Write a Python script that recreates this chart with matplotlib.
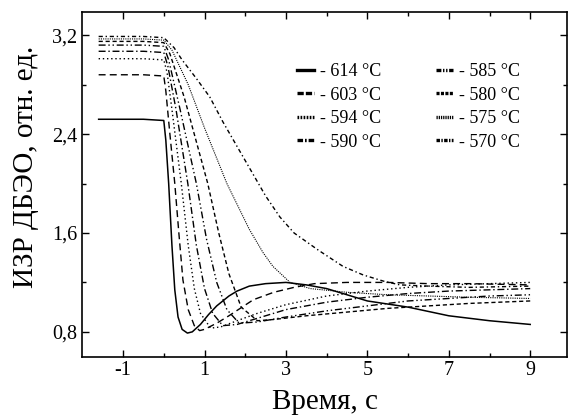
import matplotlib.pyplot as plt
import matplotlib.ticker as ticker
from matplotlib.lines import Line2D

plt.rcParams['font.family'] = ['Liberation Serif', 'DejaVu Serif']
plt.rcParams['axes.unicode_minus'] = False

# time points (s) and signal values, one pair of lists per temperature
t614 = [-1.6, -0.5, 0.0, 0.05, 0.12, 0.2, 0.27, 0.35, 0.45, 0.58, 0.7, 0.9, 1.1, 1.3, 1.6, 1.8, 2.1, 2.5, 3.0, 3.5, 4.0, 5.0, 6.0, 7.0, 8.0, 9.0]
v614 = [2.52, 2.52, 2.51, 2.35, 2.0, 1.5, 1.14, 0.92, 0.82, 0.79, 0.80, 0.86, 0.94, 1.01, 1.09, 1.13, 1.17, 1.19, 1.20, 1.18, 1.15, 1.05, 1.0, 0.93, 0.89, 0.86]

t603 = [-1.6, -0.5, 0.0, 0.05, 0.15, 0.27, 0.37, 0.47, 0.6, 0.75, 0.88, 1.0, 1.3, 1.6, 2.2, 2.7, 3.2, 3.7, 4.5, 5.5, 6.5, 7.5, 9.0]
v603 = [2.88, 2.88, 2.87, 2.75, 2.4, 2.0, 1.6, 1.22, 0.98, 0.85, 0.81, 0.82, 0.87, 0.93, 1.06, 1.12, 1.16, 1.19, 1.20, 1.20, 1.19, 1.19, 1.18]

t594 = [-1.6, -0.5, 0.0, 0.08, 0.2, 0.43, 0.6, 0.75, 0.9, 1.15, 1.4, 1.8, 2.3, 3.0, 4.0, 5.0, 6.0, 7.0, 8.0, 9.0]
v594 = [3.01, 3.01, 3.0, 2.9, 2.6, 2.0, 1.5, 1.15, 0.95, 0.83, 0.84, 0.89, 0.95, 1.02, 1.09, 1.13, 1.16, 1.18, 1.19, 1.20]

t590 = [-1.6, -0.5, 0.0, 0.1, 0.3, 0.59, 0.8, 1.0, 1.2, 1.45, 1.8, 2.5, 3.0, 4.0, 5.0, 6.0, 7.0, 8.0, 9.0]
v590 = [3.07, 3.07, 3.06, 2.95, 2.6, 2.0, 1.5, 1.15, 0.95, 0.85, 0.86, 0.93, 0.98, 1.04, 1.08, 1.11, 1.13, 1.14, 1.15]

t585 = [-1.6, -0.5, 0.0, 0.12, 0.4, 0.8, 1.05, 1.3, 1.55, 1.85, 2.3, 3.0, 4.0, 5.0, 6.0, 7.0, 8.0, 9.0]
v585 = [3.12, 3.12, 3.11, 3.0, 2.6, 2.0, 1.55, 1.2, 0.98, 0.87, 0.88, 0.92, 0.97, 1.01, 1.05, 1.07, 1.09, 1.10]

t580 = [-1.6, -0.5, 0.0, 0.15, 0.5, 1.08, 1.35, 1.6, 1.9, 2.3, 2.7, 3.5, 4.5, 5.5, 6.5, 7.5, 9.0]
v580 = [3.15, 3.15, 3.14, 3.05, 2.7, 2.0, 1.6, 1.27, 1.0, 0.89, 0.9, 0.93, 0.96, 0.99, 1.01, 1.03, 1.05]

t575 = [-1.6, -0.5, 0.0, 0.2, 0.6, 1.0, 1.55, 2.1, 2.44, 2.68, 3.1, 3.6, 4.5, 5.5, 6.5, 7.5, 9.0]
v575 = [3.17, 3.17, 3.16, 3.08, 2.8, 2.45, 2.0, 1.63, 1.44, 1.33, 1.2, 1.15, 1.12, 1.10, 1.09, 1.08, 1.07]

t570 = [-1.6, -0.5, 0.0, 0.25, 0.45, 0.8, 1.13, 1.45, 1.8, 2.15, 2.5, 2.85, 3.2, 3.8, 4.4, 4.9, 5.4, 5.8, 6.5, 7.5, 9.0]
v570 = [3.19, 3.19, 3.18, 3.1, 3.0, 2.85, 2.7, 2.5, 2.3, 2.1, 1.9, 1.73, 1.6, 1.46, 1.33, 1.26, 1.21, 1.18, 1.17, 1.16, 1.17]

labels = ['- 614 °C', '- 603 °C', '- 594 °C', '- 590 °C',
          '- 585 °C', '- 580 °C', '- 575 °C', '- 570 °C']

x_ticks = [-1, 1, 3, 5, 7, 9]
y_ticks = [0.8, 1.6, 2.4, 3.2]
y_ticklabels = ['0,8', '1,6', '2,4', '3,2']

series = [(t614, v614), (t603, v603), (t594, v594), (t590, v590),
          (t585, v585), (t580, v580), (t575, v575), (t570, v570)]
styles = ['-', (0, (5, 3)), (0, (1, 2)), (0, (5, 2, 1, 2)),
          (0, (5, 2, 1, 2, 1, 2)), (0, (3, 2)), (0, (1, 1)), (0, (3, 2, 1, 2))]
widths = [1.1, 1.0, 1.0, 1.0, 1.0, 1.0, 0.8, 1.0]

# legend handle dash patterns (in points, not scaled by line width)
legend_styles = ['-', (0, (4.5, 1.5)), (0, (1.2, 1.0)), (0, (4, 1.4, 1.2, 1.4)),
                 (0, (3.5, 1.2, 1.0, 1.2, 1.0, 1.2)), (0, (2.2, 1.0)),
                 (0, (0.9, 0.7)), (0, (2.5, 1.0, 1.0, 1.0))]

fig = plt.figure(figsize=(5.68, 4.19), dpi=100)
ax = fig.add_axes([0.145, 0.149, 0.853, 0.823])

for (t, v), ls, lw in zip(series, styles, widths):
    ax.plot(t, v, color='black', linestyle=ls, linewidth=lw)

ax.set_xlim(-2, 9.9)
ax.set_ylim(0.6, 3.39)
ax.set_xticks(x_ticks)
ax.set_yticks(y_ticks)
ax.set_yticklabels(y_ticklabels)
ax.xaxis.set_minor_locator(ticker.FixedLocator([0, 2, 4, 6, 8]))
ax.yaxis.set_minor_locator(ticker.FixedLocator([1.2, 2.0, 2.8]))
ax.tick_params(which='both', direction='in', top=True, right=True, labelsize=14.5, width=1)
ax.tick_params(which='major', length=5)
ax.tick_params(which='minor', length=3)
for s in ax.spines.values():
    s.set_linewidth(1.2)

ax.set_xlabel('Время, с', fontsize=21, labelpad=6)
ax.set_ylabel('ИЗР ДБЭО, отн. ед.', fontsize=21)
ax.yaxis.set_label_coords(-0.09, 0.55)

# legend handles: thick, dashes not scaled by width
plt.rcParams['lines.scale_dashes'] = False
handles = [Line2D([], [], color='black', linestyle=ls, linewidth=2.4) for ls in legend_styles]
ax.legend(handles, labels, ncol=2, frameon=False, fontsize=13,
          loc='upper left', bbox_to_anchor=(288 / 568, 1 - 54 / 419),
          bbox_transform=fig.transFigure, handlelength=0.95, handletextpad=0.35,
          columnspacing=3.0, labelspacing=0.36, borderpad=0)

fig.savefig('out.png', dpi=100)
